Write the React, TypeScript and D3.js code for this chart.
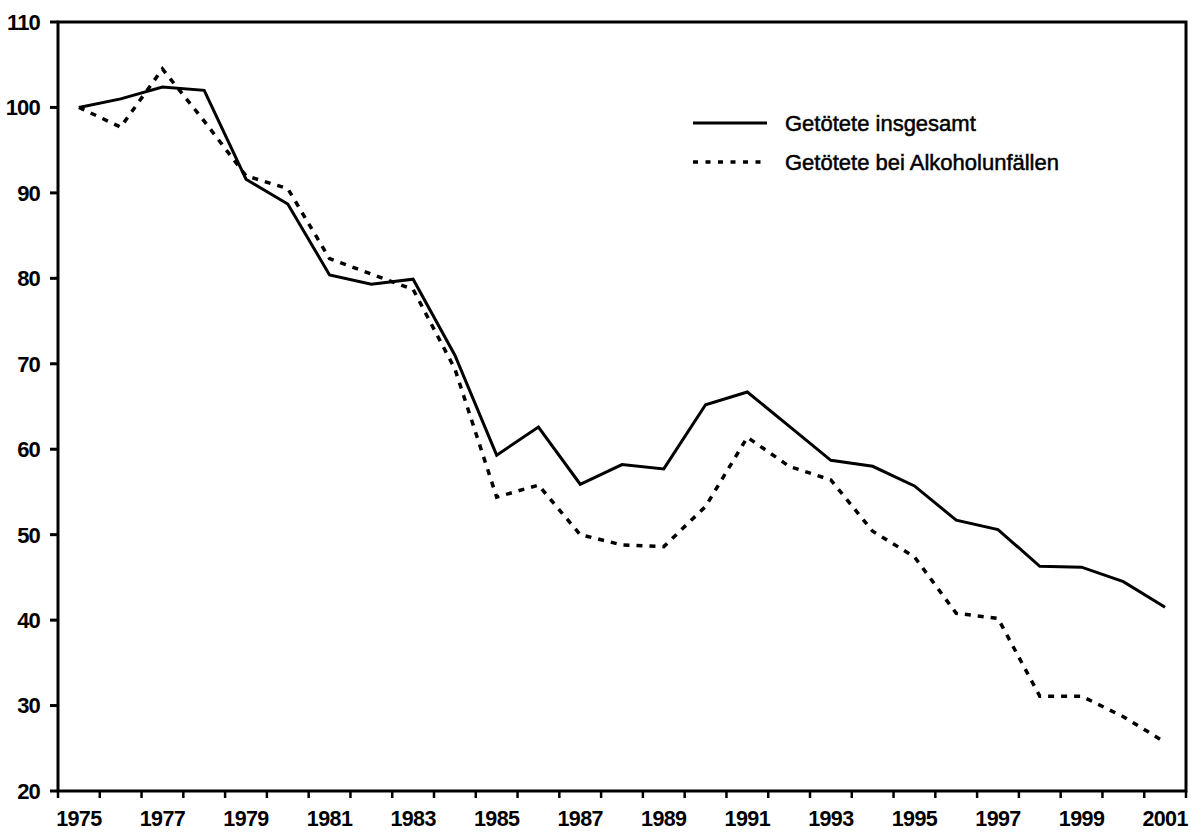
import React from "react";
import * as d3 from "d3";

const years: number[] = [1975,1976,1977,1978,1979,1980,1981,1982,1983,1984,1985,1986,1987,1988,1989,1990,1991,1992,1993,1994,1995,1996,1997,1998,1999,2000,2001];
const insgesamt: number[] = [100,101.0,102.4,102.0,91.6,88.7,80.4,79.3,79.9,71.0,59.3,62.6,55.9,58.2,57.7,65.2,66.7,62.7,58.7,58.0,55.7,51.7,50.6,46.3,46.2,44.5,41.5];
const alkohol: number[] = [100,97.7,104.5,98.4,92.0,90.5,82.3,80.5,78.7,69.4,54.4,55.8,50.0,48.8,48.6,53.3,61.4,58.0,56.4,50.4,47.4,40.8,40.2,31.1,31.1,28.7,25.7];
const yTicks: number[] = [20,30,40,50,60,70,80,90,100,110];
const xLabelYears: number[] = [1975,1977,1979,1981,1983,1985,1987,1989,1991,1993,1995,1997,1999,2001];
const legendLabels: string[] = ["Getötete insgesamt", "Getötete bei Alkoholunfällen"];

const W = 1191, H = 832;
const left = 58, right = 1186, top = 22, bottom = 791;
const FONT = "'Liberation Sans', Arial, sans-serif";

export default function App() {
  const x = d3.scaleBand<number>().domain(years).range([left, right]).padding(0);
  const y = d3.scaleLinear().domain([20, 110]).range([bottom, top]);
  const cx = (yr: number) => (x(yr) as number) + x.bandwidth() / 2;
  const line = d3.line<number>().x((_, i) => cx(years[i])).y((d) => y(d));
  const boundaries = years.map((yr) => x(yr) as number).concat([right]);

  return (
    <svg width={W} height={H} style={{ position: "absolute", left: 0, top: 0, background: "#fff" }}>
      <rect x={0} y={0} width={W} height={H} fill="#fff" />
      {/* frame */}
      <rect x={left} y={top} width={right - left} height={bottom - top} fill="none" stroke="#000" strokeWidth={3} />
      {/* y ticks */}
      {yTicks.map((t) => (
        <g key={t}>
          <line x1={left - 8} x2={left} y1={y(t)} y2={y(t)} stroke="#000" strokeWidth={3} />
          <text x={40} y={y(t)} dy="0.36em" textAnchor="end" fontFamily={FONT} fontWeight="bold" fontSize={22} letterSpacing={-0.8} fill="#000">{t}</text>
        </g>
      ))}
      {/* x ticks */}
      {boundaries.map((b, i) => (
        <line key={i} x1={b} x2={b} y1={bottom} y2={bottom + 7} stroke="#000" strokeWidth={2.5} />
      ))}
      {xLabelYears.map((yr) => (
        <text key={yr} x={cx(yr)} y={826} textAnchor="middle" fontFamily={FONT} fontWeight="bold" fontSize={21.5} letterSpacing={-0.6} fill="#000">{yr}</text>
      ))}
      {/* series */}
      <path d={line(alkohol) || ""} fill="none" stroke="#000" strokeWidth={3.5} strokeDasharray="6,7" />
      <path d={line(insgesamt) || ""} fill="none" stroke="#000" strokeWidth={3} strokeLinejoin="miter" />
      {/* legend */}
      <line x1={693} x2={767} y1={123} y2={123} stroke="#000" strokeWidth={3} />
      <text x={785} y={123} dy="0.36em" fontFamily={FONT} fontSize={22} stroke="#000" strokeWidth={0.5} fill="#000">{legendLabels[0]}</text>
      <line x1={693} x2={767} y1={162} y2={162} stroke="#000" strokeWidth={3.5} strokeDasharray="5,7.5" />
      <text x={785} y={162} dy="0.36em" fontFamily={FONT} fontSize={22} stroke="#000" strokeWidth={0.5} fill="#000">{legendLabels[1]}</text>
    </svg>
  );
}
